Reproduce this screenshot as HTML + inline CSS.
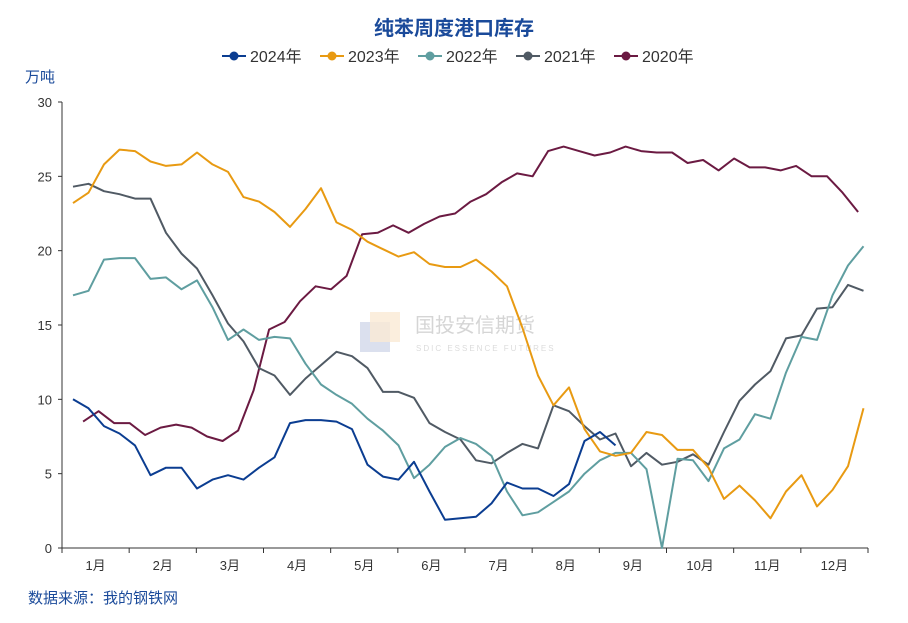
<!DOCTYPE html>
<html><head><meta charset="utf-8"><style>
body{margin:0;background:#fff;font-family:"Liberation Sans","Noto Sans CJK SC",sans-serif}
svg text{font-family:"Liberation Sans","Noto Sans CJK SC",sans-serif}
</style></head><body>
<svg width="908" height="618">
<text x="454" y="35" text-anchor="middle" font-size="20" font-weight="bold" fill="#1a4a9a">纯苯周度港口库存</text>
<g id="legend"></g>
<text x="25" y="82" font-size="15" fill="#1a4a9a">万吨</text>
<g opacity="0.35">
<rect x="360" y="322" width="30" height="30" fill="#9aa8d0"/><rect x="370" y="312" width="30" height="30" fill="#f2c48a" opacity="0.8"/>
<text x="415" y="332" font-size="20" fill="#888">国投安信期货</text>
<text x="416" y="351" font-size="8" fill="#999" letter-spacing="2">SDIC ESSENCE FUTURES</text>
</g>
<g id="axes"></g>
<g id="series"></g>
<text x="28" y="603" font-size="15" fill="#1a4a9a">数据来源：我的钢铁网</text>
</svg>
<script>
const years=['2024年','2023年','2022年','2021年','2020年'];
const colors=['#0b3d91','#e89a12','#5f9ea0','#505a64','#6b1a42'];
const s2024=[10.0,9.4,8.2,7.7,6.9,4.9,5.4,5.4,4.0,4.6,4.9,4.6,5.4,6.1,8.4,8.6,8.6,8.5,8.0,5.6,4.8,4.6,5.8,3.8,1.9,2.0,2.1,3.0,4.4,4.0,4.0,3.5,4.3,7.2,7.8,6.9];
const s2023=[23.2,23.9,25.8,26.8,26.7,26.0,25.7,25.8,26.6,25.8,25.3,23.6,23.3,22.6,21.6,22.8,24.2,21.9,21.4,20.6,20.1,19.6,19.9,19.1,18.9,18.9,19.4,18.6,17.6,14.8,11.6,9.6,10.8,8.0,6.5,6.2,6.4,7.8,7.6,6.6,6.6,5.4,3.3,4.2,3.2,2.0,3.8,4.9,2.8,3.9,5.5,9.4];
const s2022=[17.0,17.3,19.4,19.5,19.5,18.1,18.2,17.4,18.0,16.2,14.0,14.7,14.0,14.2,14.1,12.4,11.0,10.3,9.7,8.7,7.9,6.9,4.7,5.6,6.8,7.4,7.0,6.2,3.8,2.2,2.4,3.1,3.8,5.0,5.9,6.4,6.4,5.3,0.0,6.0,5.9,4.5,6.7,7.3,9.0,8.7,11.8,14.2,14.0,17.0,19.0,20.3];
const s2021=[24.3,24.5,24.0,23.8,23.5,23.5,21.2,19.8,18.8,17.0,15.1,13.9,12.1,11.6,10.3,11.4,12.3,13.2,12.9,12.1,10.5,10.5,10.1,8.4,7.8,7.3,5.9,5.7,6.4,7.0,6.7,9.6,9.2,8.2,7.3,7.7,5.5,6.4,5.6,5.8,6.3,5.6,7.8,9.9,11.0,11.9,14.1,14.3,16.1,16.2,17.7,17.3];
const s2020=[8.5,9.2,8.4,8.4,7.6,8.1,8.3,8.1,7.5,7.2,7.9,10.6,14.7,15.2,16.6,17.6,17.4,18.3,21.1,21.2,21.7,21.2,21.8,22.3,22.5,23.3,23.8,24.6,25.2,25.0,26.7,27.0,26.7,26.4,26.6,27.0,26.7,26.6,26.6,25.9,26.1,25.4,26.2,25.6,25.6,25.4,25.7,25.0,25.0,23.9,22.6];
const seriesData=[s2024,s2023,s2022,s2021,s2020];
const startWeek=[0,0,0,0,0.65];
const months=['1月','2月','3月','4月','5月','6月','7月','8月','9月','10月','11月','12月'];
const yTicks=[0,5,10,15,20,25,30];
const NS='http://www.w3.org/2000/svg';
const X0=62,X1=868,Y0=548,Y1=102;
const x=w=>73+w*15.5;
const y=v=>Y0-(v/30)*(Y0-Y1);
function mk(t,a,p){const e=document.createElementNS(NS,t);for(const k in a)e.setAttribute(k,a[k]);p.appendChild(e);return e;}
const ax=document.getElementById('axes');
let l=mk('line',{x1:X0,x2:X0,y1:Y1,y2:Y0,stroke:'#333'},ax);


l=mk('line',{x1:X0,x2:X1,y1:Y0,y2:Y0,stroke:'#333'},ax);


yTicks.forEach(v=>{mk('line',{x1:X0-4,x2:X0,y1:y(v),y2:y(v),stroke:'#333'},ax);
const t=mk('text',{x:X0-10,y:y(v)+5,'text-anchor':'end','font-size':13,fill:'#333'},ax);t.textContent=v;

});
const mw=(X1-X0)/12;
for(let i=0;i<=12;i++)mk('line',{x1:X0+i*mw,x2:X0+i*mw,y1:Y0,y2:Y0+5,stroke:'#333'},ax);
months.forEach((m,i)=>{const t=mk('text',{x:X0+(i+0.5)*mw,y:Y0+22,'text-anchor':'middle','font-size':13,fill:'#333'},ax);t.textContent=m;

});
const sg=document.getElementById('series');
for(let k=seriesData.length-1;k>=0;k--){const pts=seriesData[k].map((v,i)=>x(i+startWeek[k]).toFixed(1)+','+y(v).toFixed(1)).join(' ');
const p=mk('polyline',{points:pts,fill:'none',stroke:colors[k],'stroke-width':2,'stroke-linejoin':'round'},sg);

}
const lg=document.getElementById('legend');
let lx=222;
years.forEach((yr,i)=>{const g=mk('g',{},lg);


mk('line',{x1:lx,x2:lx+24,y1:56,y2:56,stroke:colors[i],'stroke-width':2},g);
mk('circle',{cx:lx+12,cy:56,r:4.5,fill:colors[i]},g);
const t=mk('text',{x:lx+28,y:62,'font-size':16,fill:'#333'},g);t.textContent=yr;lx+=98;});
</script>
</body></html>
